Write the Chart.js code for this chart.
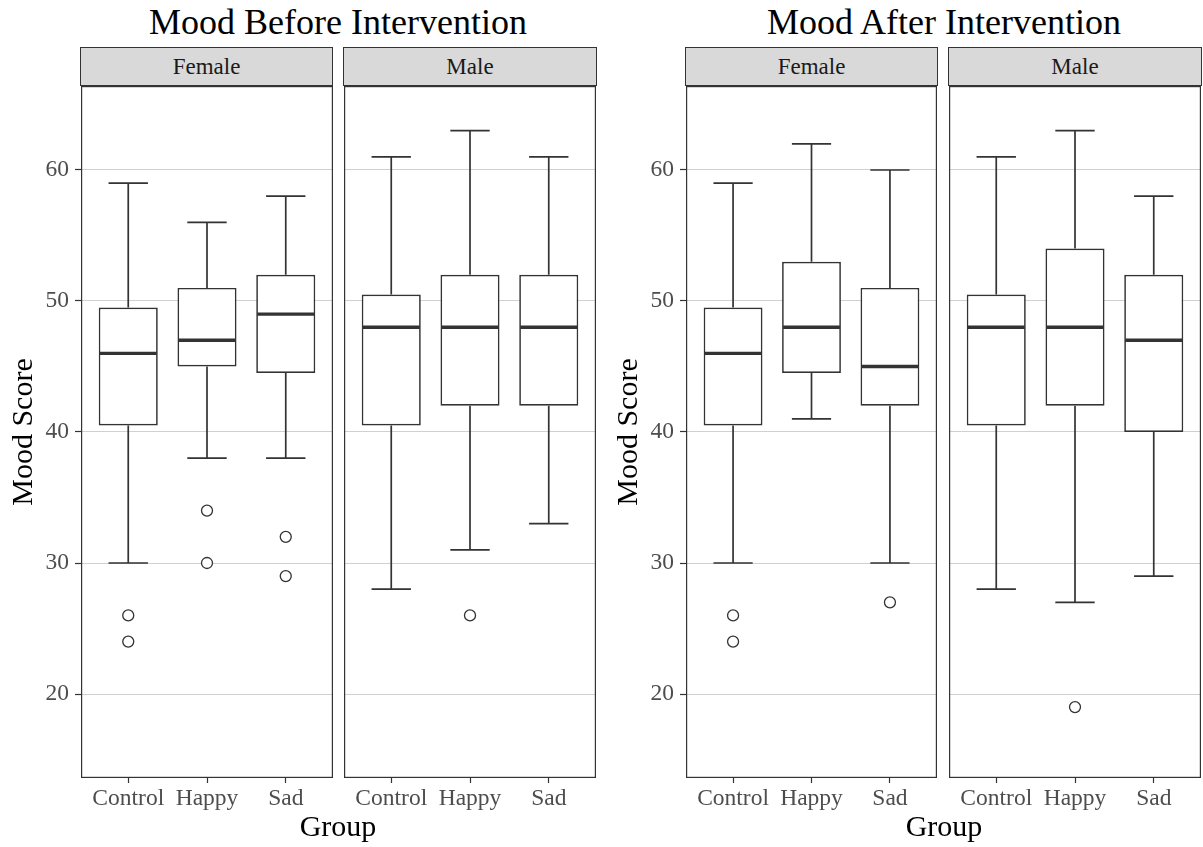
<!DOCTYPE html>
<html>
<head>
<meta charset="utf-8">
<script src="https://cdn.jsdelivr.net/npm/chart.js@4.4.1/dist/chart.umd.min.js"></script>
<style>
  body { margin: 0; background: #fff; font-family: 'Liberation Serif', 'Times New Roman', serif; }
  #page { position: relative; width: 1203px; height: 847px; overflow: hidden; }
  .title { position: absolute; top: 4px; width: 600px; text-align: center; font-size: 36px; line-height: 36px; color: #000; }
  .xlab { position: absolute; top: 811px; width: 300px; text-align: center; font-size: 30px; line-height: 30px; color: #000; }
  .strip { position: absolute; top: 47px; height: 37px; box-sizing: content-box; background: #d9d9d9;
           border: 1.2px solid #333; display: flex; align-items: center; justify-content: center;
           font-size: 23px; color: #1a1a1a; }
  canvas { position: absolute; top: 86px; }
</style>
</head>
<body>
<div id="page">
  <div class="title" style="left:38px">Mood Before Intervention</div>
  <div class="title" style="left:644px">Mood After Intervention</div>

  <div class="strip" style="left:80px;width:251px">Female</div>
  <div class="strip" style="left:343px;width:252px">Male</div>
  <div class="strip" style="left:685px;width:251px">Female</div>
  <div class="strip" style="left:948px;width:252px">Male</div>

  <canvas id="beforeFemale" width="333" height="732" style="left:0px"></canvas>
  <canvas id="beforeMale" width="252" height="732" style="left:344px"></canvas>
  <canvas id="afterFemale" width="332" height="732" style="left:605px"></canvas>
  <canvas id="afterMale" width="252" height="732" style="left:949px"></canvas>

  <div class="xlab" style="left:188px">Group</div>
  <div class="xlab" style="left:794px">Group</div>
</div>

<script>
// data: [lower whisker, Q1, median, Q3, upper whisker]
const groups = ['Control', 'Happy', 'Sad'];
const yTicks = [20, 30, 40, 50, 60];

const beforeFemaleStats = [[30, 40.5, 46, 49.5, 59], [38, 45, 47, 51, 56], [38, 44.5, 49, 52, 58]];
const beforeFemaleOut = [[26, 24], [34, 30], [32, 29]];

const beforeMaleStats = [[28, 40.5, 48, 50.5, 61], [31, 42, 48, 52, 63], [33, 42, 48, 52, 61]];
const beforeMaleOut = [[], [26], []];

const afterFemaleStats = [[30, 40.5, 46, 49.5, 59], [41, 44.5, 48, 53, 62], [30, 42, 45, 51, 60]];
const afterFemaleOut = [[26, 24], [], [27]];

const afterMaleStats = [[28, 40.5, 48, 50.5, 61], [27, 42, 48, 54, 63], [29, 40, 47, 52, 58]];
const afterMaleOut = [[], [19], []];

const ink = '#333333';
const serif = "'Liberation Serif', 'Times New Roman', serif";

// whiskers + caps behind the boxes, medians and panel frame on top
const boxLines = {
  id: 'boxLines',
  beforeDatasetsDraw(chart, args, opts) {
    const { ctx, scales: { x, y } } = chart;
    ctx.save();
    ctx.strokeStyle = ink;
    ctx.lineWidth = 1.7;
    opts.stats.forEach((s, i) => {
      const cx = x.getPixelForValue(i);
      const capL = x.getPixelForValue(i - 0.25);
      const capR = x.getPixelForValue(i + 0.25);
      ctx.beginPath();
      ctx.moveTo(cx, y.getPixelForValue(s[0]));
      ctx.lineTo(cx, y.getPixelForValue(s[1]));
      ctx.moveTo(cx, y.getPixelForValue(s[3]));
      ctx.lineTo(cx, y.getPixelForValue(s[4]));
      ctx.moveTo(capL, y.getPixelForValue(s[0]));
      ctx.lineTo(capR, y.getPixelForValue(s[0]));
      ctx.moveTo(capL, y.getPixelForValue(s[4]));
      ctx.lineTo(capR, y.getPixelForValue(s[4]));
      ctx.stroke();
    });
    ctx.restore();
  },
  afterDatasetsDraw(chart, args, opts) {
    const { ctx, chartArea: a, scales: { x, y } } = chart;
    ctx.save();
    ctx.strokeStyle = ink;
    ctx.lineWidth = 3.4;
    opts.stats.forEach((s, i) => {
      const py = y.getPixelForValue(s[2]);
      ctx.beginPath();
      ctx.moveTo(x.getPixelForValue(i - 0.375) + 1, py);
      ctx.lineTo(x.getPixelForValue(i + 0.375) - 1, py);
      ctx.stroke();
    });
    ctx.lineWidth = 1.2;
    ctx.strokeRect(a.left + 0.6, a.top + 0.6, a.right - a.left - 1.2, a.bottom - a.top - 1.2);
    ctx.restore();
  }
};

function noPadding(s) {
  s.paddingTop = 0;
  s.paddingBottom = 0;
  s.paddingLeft = 0;
  s.paddingRight = 0;
}

function panel(id, stats, outliers, withAxis) {
  const boxes = stats.map((s, i) => ({ x: i, y: [s[1], s[3]] }));
  const points = [];
  outliers.forEach((list, i) => list.forEach(v => points.push({ x: i, y: v })));

  new Chart(document.getElementById(id), {
    type: 'bar',
    plugins: [boxLines],
    data: {
      datasets: [
        {
          data: boxes,
          backgroundColor: '#ffffff',
          borderColor: ink,
          borderWidth: 1.7,
          borderSkipped: false,
          barPercentage: 0.75,
          categoryPercentage: 1,
          order: 2
        },
        {
          type: 'scatter',
          data: points,
          pointRadius: 5.5,
          pointBackgroundColor: '#ffffff',
          pointBorderColor: ink,
          pointBorderWidth: 1.3,
          clip: false,
          order: 1
        }
      ]
    },
    options: {
      responsive: false,
      animation: false,
      events: [],
      layout: { padding: 0, autoPadding: false },
      plugins: {
        legend: { display: false },
        tooltip: { enabled: false },
        boxLines: { stats }
      },
      scales: {
        x: {
          type: 'linear',
          offset: false,
          min: -0.6,
          max: 2.6,
          afterBuildTicks: s => { s.ticks = groups.map((g, i) => ({ value: i })); },
          afterFit: s => { s.height = 40; noPadding(s); },
          ticks: {
            callback: v => groups[v],
            padding: 2,
            maxRotation: 0,
            autoSkip: false,
            color: '#4d4d4d',
            font: { family: serif, size: 23.5 }
          },
          grid: { offset: false, drawOnChartArea: false, drawTicks: true, tickLength: 5, tickColor: ink, tickWidth: 1.2 },
          border: { display: false }
        },
        y: {
          min: 13.59,
          max: 66.41,
          afterBuildTicks: s => { s.ticks = yTicks.map(v => ({ value: v })); },
          afterFit: s => { s.width = withAxis ? 81 : 0; noPadding(s); },
          ticks: {
            display: withAxis,
            padding: 6,
            color: '#4d4d4d',
            font: { family: serif, size: 23.5 }
          },
          grid: { color: '#d0d0d0', lineWidth: 1, drawTicks: withAxis, tickLength: 6, tickColor: ink, tickWidth: 1.2 },
          border: { display: false },
          title: {
            display: withAxis,
            text: 'Mood Score',
            color: '#000',
            padding: { top: 6, bottom: 0 },
            font: { family: serif, size: 30 }
          }
        }
      }
    }
  });
}

panel('beforeFemale', beforeFemaleStats, beforeFemaleOut, true);
panel('beforeMale', beforeMaleStats, beforeMaleOut, false);
panel('afterFemale', afterFemaleStats, afterFemaleOut, true);
panel('afterMale', afterMaleStats, afterMaleOut, false);
</script>
</body>
</html>
